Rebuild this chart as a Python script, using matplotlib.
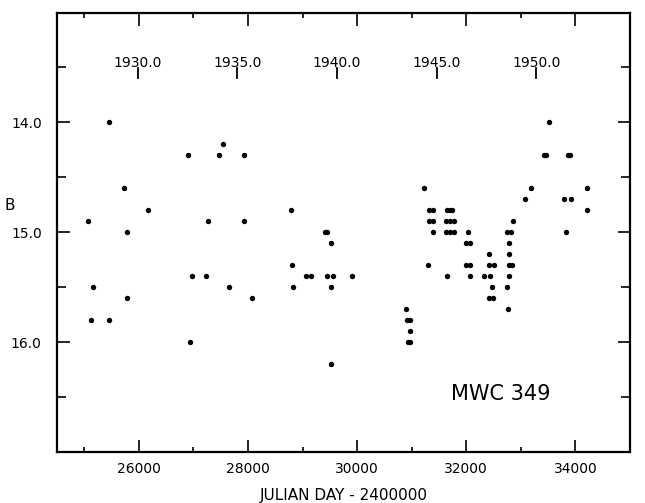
import matplotlib
matplotlib.use("Agg")
import matplotlib.pyplot as plt
import pandas as pd
from matplotlib.ticker import MultipleLocator, FixedLocator

plt.rcParams['font.family'] = ['DejaVu Sans']

# Julian day - 2400000 and B magnitude of MWC 349
jd = [25070, 25125, 25156, 25450, 25455, 25730, 25780, 25780, 26165,
      26900, 26941, 26967, 27229, 27260, 27462, 27547, 27657, 27927, 27932, 28067,
      28785, 28807, 28830, 29070, 29153, 29405, 29440, 29447, 29563, 29525, 29525,
      29914, 29515,
      30899, 30920, 30960, 30970, 30930, 30975,
      31217, 31290, 31325, 31390, 31325, 31390, 31394,
      31651, 31697, 31743, 31624, 31697, 31771, 31624, 31697, 31771, 31646,
      32024, 31990, 32070, 31990, 32070, 32073,
      32416, 32410, 32500, 32318, 32440, 32472, 32425, 32490,
      32755, 32825, 32776, 32776, 32780, 32845, 32789, 32740, 32760, 32852,
      33083, 33187, 33425, 33460, 33510, 33798, 33910, 33829, 33865, 33900,
      34207, 34207]
bmag = [14.9, 15.8, 15.5, 14.0, 15.8, 14.6, 15.0, 15.6, 14.8,
        14.3, 16.0, 15.4, 15.4, 14.9, 14.3, 14.2, 15.5, 14.3, 14.9, 15.6,
        14.8, 15.3, 15.5, 15.4, 15.4, 15.0, 15.0, 15.4, 15.4, 15.1, 15.5,
        15.4, 16.2,
        15.7, 15.8, 15.8, 15.9, 16.0, 16.0,
        14.6, 15.3, 14.8, 14.8, 14.9, 14.9, 15.0,
        14.8, 14.8, 14.8, 14.9, 14.9, 14.9, 15.0, 15.0, 15.0, 15.4,
        15.0, 15.1, 15.1, 15.3, 15.3, 15.4,
        15.2, 15.3, 15.3, 15.4, 15.4, 15.5, 15.6, 15.6,
        15.0, 15.0, 15.1, 15.2, 15.3, 15.3, 15.4, 15.5, 15.7, 14.9,
        14.7, 14.6, 14.3, 14.3, 14.0, 14.7, 14.7, 15.0, 14.3, 14.3,
        14.6, 14.8]

years = [1930, 1935, 1940, 1945, 1950]
year_labels = ["1930.0", "1935.0", "1940.0", "1945.0", "1950.0"]
x_ticklabels = ["26000", "28000", "30000", "32000", "34000"]
y_ticklabels = ["14.0", "15.0", "16.0"]

fig = plt.figure(figsize=(6.45, 5.03), dpi=100)
ax = fig.add_axes([57/645, 1-452/503, 573/645, 439.5/503])

ax.scatter(jd, bmag, s=15, color='black', linewidths=0, zorder=3)

ax.set_xlim(24500, 35000)
ax.set_ylim(17.0, 13.0)

# x ticks
ax.xaxis.set_major_locator(FixedLocator([float(v) for v in x_ticklabels]))
ax.set_xticklabels(x_ticklabels)
ax.xaxis.set_minor_locator(MultipleLocator(1000))
# y ticks
ax.yaxis.set_major_locator(FixedLocator([float(v) for v in y_ticklabels]))
ax.set_yticklabels(y_ticklabels)
ax.yaxis.set_minor_locator(MultipleLocator(0.5))

ax.tick_params(axis='x', which='major', direction='in', length=9, width=1.2,
               top=True, bottom=True, labelsize=10, pad=7)
ax.tick_params(axis='x', which='minor', direction='in', length=3.5, width=1.2,
               top=True, bottom=True)
ax.tick_params(axis='y', which='major', direction='in', length=9, width=1.2,
               left=True, right=True, labelsize=10, pad=11)
ax.tick_params(axis='y', which='minor', direction='in', length=6.5, width=1.2,
               left=True, right=True)

for sp in ax.spines.values():
    sp.set_linewidth(1.6)

# calendar year marks
for y, lab in zip(years, year_labels):
    xj = pd.Timestamp(year=y, month=1, day=1).to_julian_date() - 2400000
    ax.plot([xj, xj], [13.508, 13.6], color='black', lw=1.3)
    ax.text(xj, 13.493, lab, ha='center', va='baseline', fontsize=10)

ax.text(32624, 16.47, "MWC 349", ha='center', va='center', fontsize=15)

ax.set_xlabel("JULIAN DAY - 2400000", fontsize=11, labelpad=9)
ax.set_ylabel("B", rotation=0, fontsize=11)
ax.yaxis.set_label_coords(-0.082, 0.544)

fig.savefig("out.png", dpi=100, facecolor='white')
